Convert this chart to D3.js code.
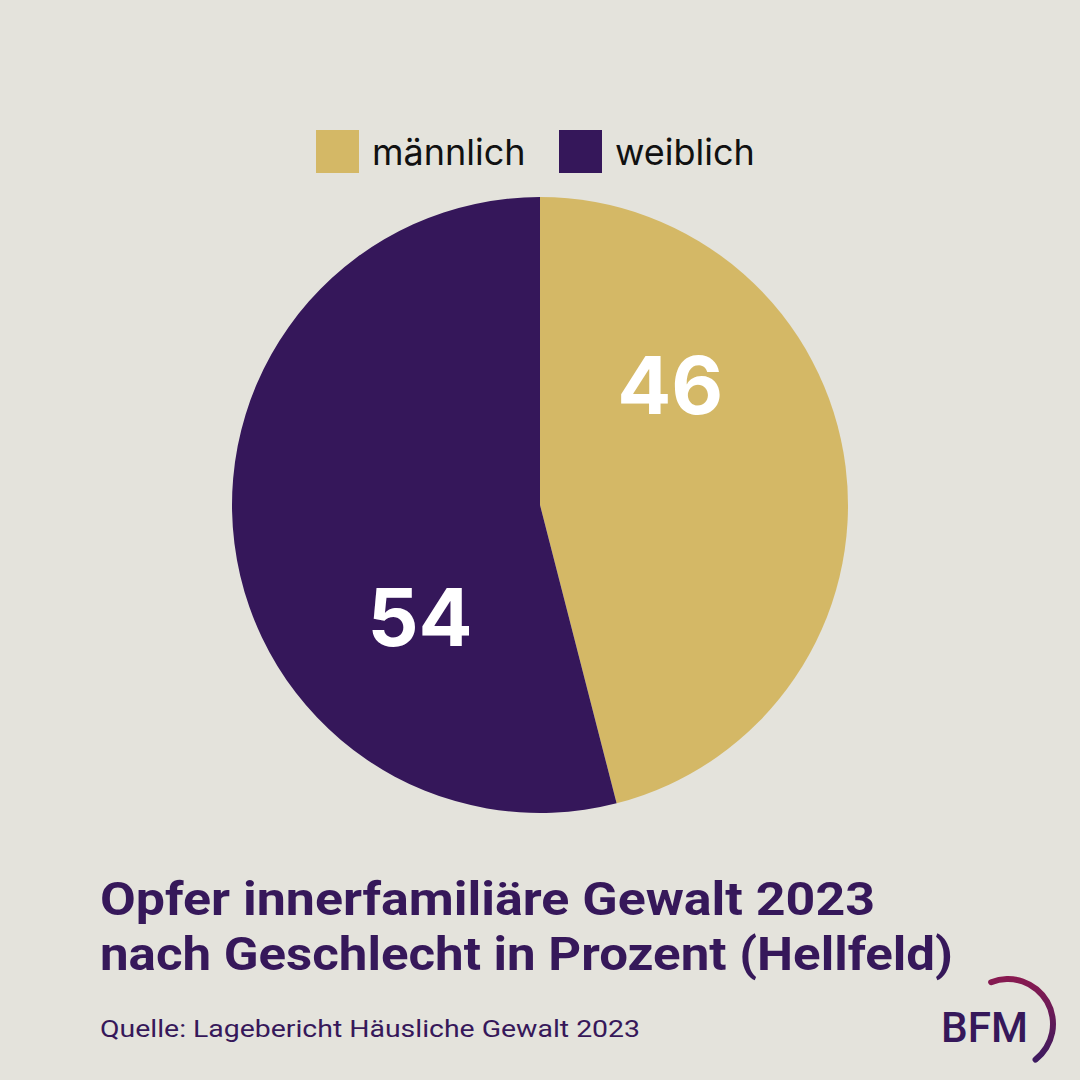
<!DOCTYPE html>
<html><head><meta charset="utf-8">
<script src="https://cdn.jsdelivr.net/npm/d3@7"></script>
<style>html,body{margin:0;padding:0;background:#e4e3dc;}svg{display:block;}</style>
</head><body>
<script>
const categories = ["männlich", "weiblich"];
const values = [46, 54];
const colors = ["#d4b866", "#35175a"];
const titleLines = ["Opfer innerfamiliäre Gewalt 2023", "nach Geschlecht in Prozent (Hellfeld)"];
const sourceText = "Quelle: Lagebericht Häusliche Gewalt 2023";

// label placement (layout): fraction along slice, radius
const labelFrac = [0.286, 0.316];
const labelRad = [177, 164];

const W = 1080, H = 1080;
const svg = d3.select("body").append("svg").attr("width", W).attr("height", H);
svg.append("rect").attr("width", W).attr("height", H).attr("fill", "#e4e3dc");

const cx = 540, cy = 505, R = 308;
const color = d3.scaleOrdinal().domain(categories).range(colors);
const pie = d3.pie().sort(null).value(d => d.v);
const data = categories.map((c, i) => ({c, v: values[i]}));
const arcs = pie(data);
const arc = d3.arc().innerRadius(0).outerRadius(R);
const g = svg.append("g").attr("transform", `translate(${cx},${cy})`);
g.selectAll("path").data(arcs).join("path")
  .attr("d", arc).attr("fill", d => color(d.data.c));

const FS = 80;
g.selectAll("text.val").data(arcs).join("text").attr("class", "val")
  .attr("x", (d, i) => { const a = d.startAngle + labelFrac[i]*(d.endAngle - d.startAngle); return Math.sin(a)*labelRad[i]; })
  .attr("y", (d, i) => { const a = d.startAngle + labelFrac[i]*(d.endAngle - d.startAngle); return -Math.cos(a)*labelRad[i] + FS*0.36; })
  .attr("text-anchor", "middle")
  .attr("font-family", "Inter, sans-serif").attr("font-weight", 700).attr("font-size", FS)
  .attr("fill", "#ffffff").text(d => d.data.v);

// legend
const legX = [316, 559];
const lg = svg.append("g");
categories.forEach((c, i) => {
  lg.append("rect").attr("x", legX[i]).attr("y", 130).attr("width", 43).attr("height", 43).attr("fill", color(c));
  lg.append("text").attr("x", legX[i] + 56).attr("y", 165)
    .attr("font-family", "Inter, sans-serif").attr("font-size", 36).attr("fill", "#111")
    .text(c);
});

// title
titleLines.forEach((t, i) => {
  svg.append("text").attr("x", 100).attr("y", 915 + i*55)
    .attr("font-family", "Roboto, sans-serif").attr("font-weight", 700).attr("font-size", 46)
    .attr("fill", "#36185a")
    .attr("textLength", i === 0 ? 775 : 853).attr("lengthAdjust", "spacingAndGlyphs")
    .text(t);
});
svg.append("text").attr("x", 100).attr("y", 1037)
  .attr("font-family", "Roboto, sans-serif").attr("font-size", 24).attr("fill", "#36185a")
  .attr("textLength", 540).attr("lengthAdjust", "spacingAndGlyphs")
  .text(sourceText);

// logo
const defs = svg.append("defs");
const grad = defs.append("linearGradient").attr("id", "lg").attr("x1", "0").attr("y1", "0").attr("x2", "0").attr("y2", "1");
grad.append("stop").attr("offset", "0%").attr("stop-color", "#8a1a50");
grad.append("stop").attr("offset", "100%").attr("stop-color", "#3b1a60");
const logoArc = d3.arc().innerRadius(42).outerRadius(48).startAngle(-0.45).endAngle(2.55).cornerRadius(3);
svg.append("path").attr("transform", "translate(1008,1024)").attr("d", logoArc()).attr("fill", "url(#lg)");
svg.append("text").attr("x", 941).attr("y", 1042)
  .attr("font-family", "Roboto, sans-serif").attr("font-weight", 500).attr("font-size", 42)
  .attr("fill", "#36185a").attr("textLength", 87).attr("lengthAdjust", "spacingAndGlyphs").text("BFM");
</script>
</body></html>
